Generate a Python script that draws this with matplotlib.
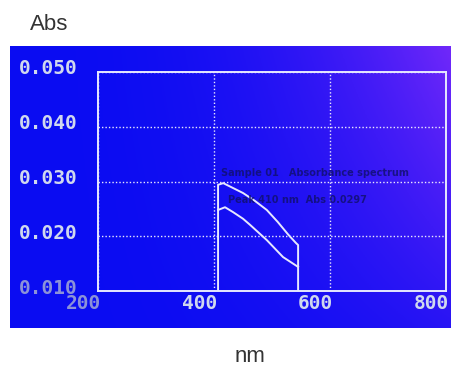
import numpy as np
import matplotlib.pyplot as plt
from matplotlib.transforms import ScaledTranslation

# spectrum outline
upper_nm = [407, 407, 416, 433, 450, 470, 491, 510, 528, 541, 545, 545]
upper_abs = [0.010, 0.0294, 0.0297, 0.0288, 0.0279, 0.0265, 0.0248, 0.0226, 0.0203, 0.0188, 0.0184, 0.010]
lower_nm = [407, 419, 433, 450, 462, 491, 519, 545]
lower_abs = [0.0248, 0.0253, 0.0244, 0.0232, 0.0221, 0.0193, 0.0162, 0.0144]

x_ticks = [200, 400, 600, 800]
y_ticks = [0.010, 0.020, 0.030, 0.040, 0.050]
x_labels = ['200', '400', '600', '800']
y_labels = ['0.010', '0.020', '0.030', '0.040', '0.050']

fig = plt.figure(figsize=(4.51, 3.68), dpi=100)
fig.patch.set_facecolor('white')
W, H = 451, 368

# blue screen background with a violet tint to the upper right
bg = fig.add_axes([10 / W, (H - 328) / H, 441 / W, 282 / H])
gx, gy = np.meshgrid(np.linspace(0, 1, 200), np.linspace(0, 1, 150))
t = np.clip(gx ** 2.4 * (0.3 + 0.7 * (1 - gy)), 0, 1)[..., None]
blue = np.array([10, 12, 242]) / 255
violet = np.array([112, 40, 250]) / 255
bg.imshow(blue * (1 - t) + violet * t, aspect='auto', extent=[0, 1, 0, 1])
bg.axis('off')

ax = fig.add_axes([98 / W, (H - 291) / H, 348 / W, 219 / H])
ax.set_facecolor('none')
ax.set_xlim(200, 800)
ax.set_ylim(0.010, 0.050)

line_col = '#e6e8ff'
ax.plot(upper_nm, upper_abs, color=line_col, lw=1.4)
ax.plot(lower_nm, lower_abs, color=line_col, lw=1.4)

for s in ax.spines.values():
    s.set_color(line_col)
    s.set_linewidth(1.4)

ax.set_xticks(x_ticks)
ax.set_xticklabels(x_labels)
ax.set_yticks(y_ticks)
ax.set_yticklabels(y_labels)
ax.grid(True, color='white', lw=1.0, linestyle=(0, (1, 1.5)), alpha=0.9)
ax.tick_params(length=0, labelsize=14, pad=2)
ax.tick_params(axis='y', pad=15)

for lab in ax.get_xticklabels() + ax.get_yticklabels():
    lab.set_family('DejaVu Sans Mono')
    lab.set_weight('bold')
    lab.set_color('#d0d8ee')
for lab in ax.get_xticklabels():
    lab.set_ha('right')
    lab.set_transform(lab.get_transform() + ScaledTranslation(0.03, 0.0, fig.dpi_scale_trans))
for lab in ax.get_yticklabels():
    lab.set_transform(lab.get_transform() + ScaledTranslation(0.0, 0.05, fig.dpi_scale_trans))
ax.get_xticklabels()[0].set_color('#8c92d8')
ax.get_yticklabels()[0].set_color('#8c92d8')

# faint dark readout text printed on the screen
ax.text(412, 0.0315, 'Sample 01   Absorbance spectrum', fontsize=7, color='#10106a',
        fontweight='bold', va='center', alpha=0.8)
ax.text(424, 0.0266, 'Peak 410 nm  Abs 0.0297', fontsize=7, color='#10106a',
        fontweight='bold', va='center', alpha=0.8)

fig.text(30 / W, 1 - 24 / H, 'Abs', fontsize=16, color='#333333', family='Liberation Sans', va='center')
fig.text(250 / W, 1 - 356 / H, 'nm', fontsize=16, color='#333333', family='Liberation Sans',
         ha='center', va='center')

fig.savefig('out.png', dpi=100)
